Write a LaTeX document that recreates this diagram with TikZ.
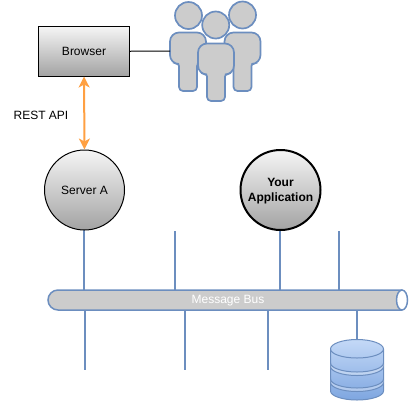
\documentclass[tikz,border=0pt]{standalone}
\usepackage{fontspec}
\setmainfont{Liberation Sans}
\usetikzlibrary{arrows.meta,shadings}
\definecolor{busblue}{HTML}{6C8EBF}
\definecolor{pgray}{HTML}{CCCCCC}
\definecolor{oarrow}{HTML}{FFA042}
\definecolor{dbtop}{HTML}{C4D9F7}
\definecolor{dbbot}{HTML}{7EA6E0}
\definecolor{gtop}{HTML}{F5F5F5}
\definecolor{gbot}{HTML}{A3A3A3}
\tikzset{
  x=1pt,y=-1pt,
  every node/.style={font=\fontsize{12}{14.5}\selectfont,inner sep=0pt,align=center},
  grayshade/.style={top color=gtop,bottom color=gbot,draw=black,line width=1pt},
  boxnode/.style={grayshade,rectangle,minimum width=91pt,minimum height=49.5pt},
  roundnode/.style={grayshade,circle,minimum size=80pt},
  tap/.style={draw=busblue,line width=1.8pt},
  personpart/.style={fill=pgray,draw=busblue,line width=1.7pt},
  dbpart/.style={draw=busblue,line width=1pt},
}
\newcommand{\personbody}[4]{% cx, top, shoulder bottom, foot
  \draw[personpart]
    (#1,#2) [rounded corners=9pt] -- (#1+18,#2) -- (#1+18,#3) [rounded corners=2pt] -- (#1+9,#3)
    [rounded corners=4pt] -- (#1+9,#4) -- (#1-9,#4) [rounded corners=2pt] -- (#1-9,#3)
    [rounded corners=9pt] -- (#1-18,#3) -- (#1-18,#2) [sharp corners] -- cycle;
}
\begin{document}
\begin{tikzpicture}
\useasboundingbox (0,0) rectangle (411,400);
% taps above
\coordinate (t1) at (84,290); \coordinate (t2) at (175,290); \coordinate (t3) at (280,290); \coordinate (t4) at (339,290);
\coordinate (u2) at (175,231); \coordinate (u4) at (339,231);
\draw[tap] (84,230) -- (t1);
\draw[tap] (u2) -- (t2);
\draw[tap] (280,230) -- (t3);
\draw[tap] (u4) -- (t4);
% taps below
\coordinate (b1) at (85,310); \coordinate (b2) at (185,310); \coordinate (b3) at (268,310); \coordinate (b4) at (357,310);
\coordinate (e1) at (85,370); \coordinate (e2) at (185,370); \coordinate (e3) at (268,370); \coordinate (e4) at (357,340);
\draw[tap] (b1) -- (e1);
\draw[tap] (b2) -- (e2);
\draw[tap] (b3) -- (e3);
\draw[tap] (b4) -- (e4);
% bus
\draw[personpart,line width=1.5pt]
  (402,290) -- (58,290) arc[start angle=270,end angle=90,x radius=10,y radius=10] -- (402,310);
\path (402,300) coordinate (busEnd);
\draw[fill=white,draw=busblue,line width=1.5pt] (busEnd) ellipse[x radius=5.5,y radius=10];
\node[text=white] (bus) at (228,301) {Message Bus};
% nodes
\node[boxnode] (browser) at (84,51.25) {Browser};
\node[roundnode] (serverA) at (84.5,190) {Server A};
\node[roundnode,line width=2pt] (yourApp) at (280.5,190) {};
\node[font=\fontsize{12}{14.5}\selectfont\bfseries] (yourAppText) at (280.5,191) {Your\\Application};
\node (rest) at (41,115.5) {REST API};
% people
\coordinate (peopleEdge) at (170,51);
\personbody{188}{32.5}{64}{91}
\personbody{242.5}{32.5}{64}{91}
\draw[personpart] (188.5,15.5) circle[radius=13.5];
\draw[personpart] (242.5,15) circle[radius=13.5];
\personbody{216}{43.5}{74.5}{101}
\draw[personpart] (215.7,25) circle[radius=13.5];
\draw[line width=1pt] (browser.east) -- (peopleEdge);
\draw[draw=oarrow,line width=2pt,{Stealth[length=11pt,width=11pt,inset=3pt]}-{Stealth[length=11pt,width=11pt,inset=3pt]}] (browser.south) -- (serverA.north);
% database
\draw[dbpart,top color=dbtop,bottom color=dbbot]
  (330.5,349) arc[start angle=180,end angle=360,x radius=26.5,y radius=9.5]
  -- (383.5,391) arc[start angle=0,end angle=180,x radius=26.5,y radius=9] -- cycle;
\foreach \yy in {379,363}{
  \fill[white,opacity=.35] (330.5,\yy) arc[start angle=180,end angle=0,x radius=26.5,y radius=9]
    -- (383.5,\yy+3.5) arc[start angle=0,end angle=180,x radius=26.5,y radius=9] -- cycle;
  \draw[dbpart] (330.5,\yy) arc[start angle=180,end angle=0,x radius=26.5,y radius=9];
  \draw[dbpart] (330.5,\yy+3.5) arc[start angle=180,end angle=0,x radius=26.5,y radius=9];
}
\draw[dbpart] (330.5,349) arc[start angle=180,end angle=0,x radius=26.5,y radius=9];
\end{tikzpicture}
\end{document}
